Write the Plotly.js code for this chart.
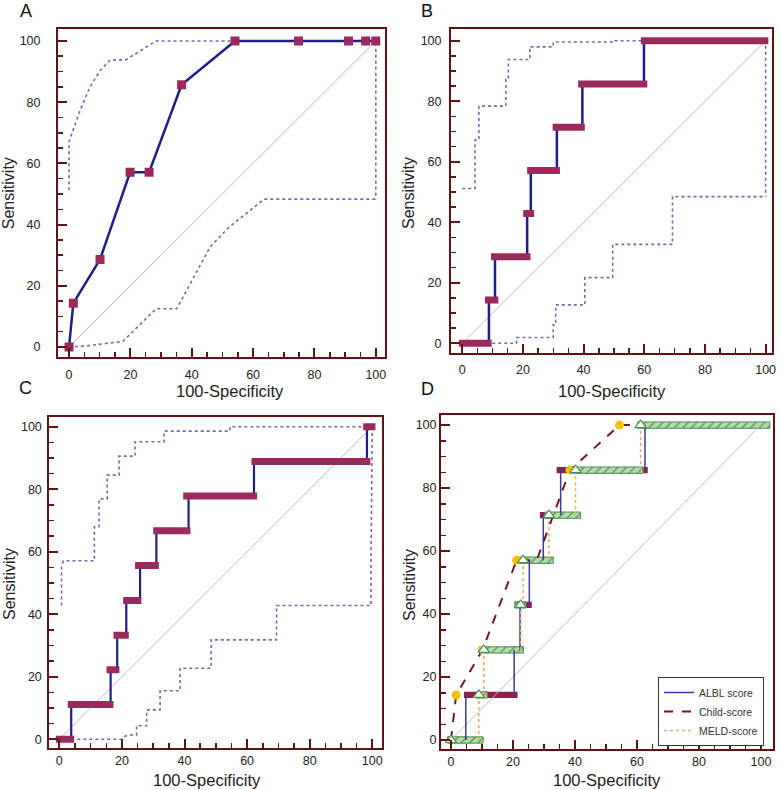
<!DOCTYPE html>
<html>
<head>
<meta charset="utf-8">
<script src="https://cdn.plot.ly/plotly-3.0.1.min.js"></script>
<style>html,body{margin:0;padding:0;background:#fff;}#chart{width:781px;height:790px;}</style>
</head>
<body>
<div id="chart"></div>
<script>
// ---------------- DATA ----------------
const sensLevels7 = [0, 14.3, 28.6, 42.9, 57.1, 71.4, 85.7, 100];
const sensLevels9 = [0, 11.1, 22.2, 33.3, 44.4, 55.6, 66.7, 77.8, 88.9, 100];
const diagX = [0, 100];
const diagY = [0, 100];

// Panel A
const aFpr  = [0, 1.4, 10.1, 19.9, 26.1, 36.7, 54.1, 74.8, 91.1, 96.7, 100];
const aSens = [0, 14.3, 28.6, 57.1, 57.1, 85.7, 100, 100, 100, 100, 100];
const aUpperX = [0, 0, 0.9, 3.6, 6.8, 10.1, 13.4, 18.5, 28.4, 100, 100];
const aUpperY = [51.2, 67, 69.7, 77.3, 84.9, 90.3, 93.8, 93.8, 100, 100, 48.3];
const aLowerX = [0, 5, 17.5, 28.4, 35.1, 46, 52, 63.6, 100];
const aLowerY = [0, 0.3, 1.8, 12.5, 12.5, 32.7, 39, 48.3, 48.3];

// Panel B
const bStepX    = [8.8, 10.8, 21.4, 22.6, 31.2, 39.6, 59.9];
const bBarStart = [-1.1, 7.5, 9.5, 20.1, 21.4, 29.8, 38.2, 58.9];
const bBarEnd   = [9.7, 11.9, 22.5, 23.7, 32.2, 40.4, 61.0, 100.9];
const bUpperX = [0, 4.2, 4.2, 5.5, 5.5, 14.4, 14.4, 15.2, 15.2, 22.3, 22.3, 30, 30, 49.8, 49.8, 100, 100];
const bUpperY = [51.2, 51.2, 67.2, 67.2, 78.4, 78.4, 87.3, 87.3, 93.8, 93.8, 98, 98, 99.6, 99.6, 100, 100, 48.5];
const bLowerX = [0, 17.9, 17.9, 30, 30, 30.8, 30.8, 40.4, 40.4, 49.6, 49.6, 69.3, 69.3, 100];
const bLowerY = [0, 0, 1.9, 1.9, 6.1, 6.1, 12.7, 12.7, 21.7, 21.7, 32.7, 32.7, 48.5, 48.5];

// Panel C
const cStepX    = [3.8, 16.4, 18.5, 21.4, 25.8, 31.0, 41.3, 62.2, 98.3];
const cBarStart = [-1.1, 2.7, 15.1, 17.3, 20.4, 24.2, 30.0, 39.6, 61.4, 97.1];
const cBarEnd   = [4.7, 17.3, 19.2, 22.2, 26.2, 31.8, 41.9, 63.2, 99.4, 101];
const cUpperX = [0.7, 0.7, 1.3, 11.2, 11.2, 12.7, 12.7, 15.3, 15.3, 19.1, 19.1, 24.2, 24.2, 33.5, 33.5, 54.5, 54.5, 100];
const cUpperY = [42.8, 55, 57.1, 57.1, 68, 68, 76.9, 76.9, 84.5, 84.5, 90.6, 90.6, 95.2, 95.2, 98.6, 98.6, 100, 100];
const cLowerX = [0, 20, 21, 22.5, 24.7, 24.7, 27.9, 27.9, 32.2, 32.2, 38.6, 38.6, 48.5, 48.5, 69.4, 69.4, 99.6, 99.6, 100];
const cLowerY = [0, 0, 1, 1.4, 1.4, 4.3, 4.3, 9.4, 9.4, 15.5, 15.5, 22.7, 22.7, 31.8, 31.8, 42.8, 42.8, 57.9, 100];

// Panel D
const dAlblStepX    = [4.8, 20.4, 22.3, 25.3, 29.8, 35.4, 62.6];
const dAlblBarStart = [-1.1, 4.2, 19.3, 21.2, 24.2, 28.7, 34.1, 61.5];
const dAlblBarEnd   = [5.9, 21.5, 23.5, 26.1, 30.9, 36.5, 63.5, 101];
const dMeldStepX    = [9.0, 10.6, 22.5, 23.3, 31.6, 40.2, 61.2];
const dMeldBarStart = [-1.1, 8.1, 9.1, 20.6, 22.0, 30.3, 38.9, 60.3];
const dMeldBarEnd   = [10.4, 11.7, 23.3, 24.2, 33.0, 41.8, 62.0, 102.9];
const dChildX = [0, 1.7, 10.2, 21.2, 27.7, 38.4, 54.4, 60.5];
const dChildY = [0, 14.3, 28.6, 57.1, 57.1, 85.7, 100, 100];
const dChildDotIdx = [1, 2, 3, 5, 6];

const panelLetters = ['A', 'B', 'C', 'D'];
const xTitle = '100-Specificity';
const yTitle = 'Sensitivity';
const legendNames = ['ALBL score', 'Child-score', 'MELD-score'];

// ---------------- HELPERS ----------------
const W = 781, H = 790;
const FONT = 'Liberation Sans, Arial, Helvetica, sans-serif';
const FRAME = '#5e1414';
const NAVY = '#1f1f85';
const MAROON = '#9b2a5c';
const CI = '#6c6cb2';

function verticals(stepX, levels) {
  const x = [], y = [];
  stepX.forEach((sx, i) => { x.push(sx, sx, null); y.push(levels[i], levels[i + 1], null); });
  return {x, y};
}
function hbars(start, end, levels) {
  const x = [], y = [];
  start.forEach((s, i) => { x.push(s, end[i], null); y.push(levels[i], levels[i], null); });
  return {x, y};
}
const px = v => v / W;
const py = v => 1 - v / H;

function axis(dom, range, anchor, standoff) {
  return {
    domain: dom, range: range, anchor: anchor,
    showgrid: false, zeroline: false, showline: true, mirror: true,
    linecolor: FRAME, linewidth: 2,
    ticks: 'inside', ticklen: 9, tickwidth: 2, tickcolor: FRAME,
    tick0: 0, dtick: 20,
    minor: {dtick: 5, tick0: 0, ticks: 'inside', ticklen: 5, tickwidth: 1.5, tickcolor: FRAME, showgrid: false},
    tickfont: {family: FONT, size: 12.5, color: '#222'},
    ticklabelstandoff: standoff,
    fixedrange: true
  };
}

const traces = [];
const ax = ['', '2', '3', '4'];
const diagColors = ['#d8a9a9', '#d3b0b0', '#bcbcbc', '#bdbdbd'];
ax.forEach((s, i) => traces.push({type: 'scatter', mode: 'lines', x: diagX, y: diagY, xaxis: 'x' + s, yaxis: 'y' + s,
  line: {color: diagColors[i], width: 1}, showlegend: false, hoverinfo: 'skip'}));

function ciTrace(x, y, s) {
  return {type: 'scatter', mode: 'lines', x: x, y: y, xaxis: 'x' + s, yaxis: 'y' + s,
    line: {color: CI, width: 1.6, dash: 'dot'}, showlegend: false, hoverinfo: 'skip'};
}
// Panel A
traces.push(ciTrace(aUpperX, aUpperY, ''), ciTrace(aLowerX, aLowerY, ''));
traces.push({type: 'scatter', mode: 'lines+markers', x: aFpr, y: aSens, xaxis: 'x', yaxis: 'y',
  line: {color: NAVY, width: 2.5}, marker: {symbol: 'square', size: 9, color: MAROON}, showlegend: false});

// Panel B & C
function stepPanel(s, upX, upY, loX, loY, stepX, bs, be, lv, vw) {
  traces.push(ciTrace(upX, upY, s), ciTrace(loX, loY, s));
  const v = verticals(stepX, lv);
  traces.push({type: 'scatter', mode: 'lines', x: v.x, y: v.y, xaxis: 'x' + s, yaxis: 'y' + s,
    line: {color: NAVY, width: vw}, showlegend: false, connectgaps: false});
  const b = hbars(bs, be, lv);
  traces.push({type: 'scatter', mode: 'lines', x: b.x, y: b.y, xaxis: 'x' + s, yaxis: 'y' + s,
    line: {color: MAROON, width: 7}, showlegend: false, connectgaps: false});
}
stepPanel('2', bUpperX, bUpperY, bLowerX, bLowerY, bStepX, bBarStart, bBarEnd, sensLevels7, 2.5);
stepPanel('3', cUpperX, cUpperY, cLowerX, cLowerY, cStepX, cBarStart, cBarEnd, sensLevels9, 2.2);

// Panel D
traces.push({type: 'bar', orientation: 'h', xaxis: 'x4', yaxis: 'y4', y: sensLevels7,
  x: dAlblBarEnd.map((e, i) => e - dAlblBarStart[i]), base: dAlblBarStart, width: 2.0,
  marker: {color: '#8e1f4c', line: {width: 0}}, showlegend: false, hoverinfo: 'skip'});
traces.push({type: 'bar', orientation: 'h', xaxis: 'x4', yaxis: 'y4', y: sensLevels7,
  x: dMeldBarEnd.map((e, i) => e - dMeldBarStart[i]), base: dMeldBarStart, width: 2.0,
  marker: {color: '#a6d3a0', line: {width: 1, color: '#4f8f4f'},
    pattern: {shape: '/', fgcolor: '#5f9f5f', bgcolor: '#b4dcae', size: 6, solidity: 0.25}},
  showlegend: false, hoverinfo: 'skip'});
const va = verticals(dAlblStepX, sensLevels7);
traces.push({type: 'scatter', mode: 'lines', x: va.x, y: va.y, xaxis: 'x4', yaxis: 'y4',
  line: {color: '#3a3a9c', width: 1.5}, name: legendNames[0], legendrank: 1});
const vm = verticals(dMeldStepX, sensLevels7);
traces.push({type: 'scatter', mode: 'lines', x: vm.x, y: vm.y, xaxis: 'x4', yaxis: 'y4',
  line: {color: '#f0a468', width: 1.5, dash: 'dot'}, name: legendNames[2], legendrank: 3});
traces.push({type: 'scatter', mode: 'lines', x: dChildX, y: dChildY, xaxis: 'x4', yaxis: 'y4',
  line: {color: '#6e1a22', width: 2, dash: 'dash'}, name: legendNames[1], legendrank: 2});
traces.push({type: 'scatter', mode: 'markers', x: dChildDotIdx.map(i => dChildX[i]), y: dChildDotIdx.map(i => dChildY[i]),
  xaxis: 'x4', yaxis: 'y4', marker: {color: '#f4c20d', size: 9}, showlegend: false});
traces.push({type: 'scatter', mode: 'markers', x: [0].concat(dMeldStepX), y: sensLevels7, xaxis: 'x4', yaxis: 'y4',
  marker: {symbol: 'triangle-up', size: 10, color: '#ffffff', line: {color: '#4f8f4f', width: 1.2}}, showlegend: false});

// ---------------- LAYOUT ----------------
const layout = {
  width: W, height: H,
  margin: {l: 0, r: 0, t: 0, b: 0, pad: 0},
  paper_bgcolor: '#ffffff', plot_bgcolor: '#ffffff',
  font: {family: FONT, color: '#222'},
  barmode: 'overlay',
  xaxis:  axis([px(58), px(385)],    [-3.6, 103.0], 'y',  5),
  yaxis:  axis([py(357.3), py(29.3)], [-3.37, 103.8], 'x', 13),
  xaxis2: axis([px(451), px(771.7)], [-3.7, 102.0], 'y2', 4),
  yaxis2: axis([py(353.3), py(29.3)], [-3.3, 103.8], 'x2', 5),
  xaxis3: axis([px(49.3), px(382.3)], [-3.2, 103.2], 'y3', 0),
  yaxis3: axis([py(748.3), py(416.7)], [-2.9, 103.2], 'x3', 3),
  xaxis4: axis([px(441), px(773.3)], [-3.2, 104.0], 'y4', 0),
  yaxis4: axis([py(749.3), py(415)], [-2.95, 103.2], 'x4', 0),
  showlegend: true,
  legend: {x: px(764), xanchor: 'right', y: py(677), yanchor: 'top',
    bgcolor: '#ffffff', bordercolor: '#333', borderwidth: 1,
    font: {family: FONT, size: 10.5, color: '#333'}, tracegroupgap: 0, itemwidth: 30},
  annotations: []
};
const letterPos = [[26, 11], [426.5, 11], [25.5, 388], [427.5, 389]];
panelLetters.forEach((t, i) => layout.annotations.push({text: t, xref: 'paper', yref: 'paper',
  x: px(letterPos[i][0]), y: py(letterPos[i][1]), xanchor: 'center', yanchor: 'middle', showarrow: false,
  font: {family: FONT, size: 18, color: '#111'}}));
const xtPos = [[230, 390.5], [612, 390.5], [207, 779.5], [607, 779.5]];
xtPos.forEach(p => layout.annotations.push({text: xTitle, xref: 'paper', yref: 'paper',
  x: px(p[0]), y: py(p[1]), xanchor: 'center', yanchor: 'middle', showarrow: false,
  font: {family: FONT, size: 16.5, color: '#222'}}));
const ytPos = [[9.2, 193], [409, 193], [9, 584], [409, 585]];
ytPos.forEach(p => layout.annotations.push({text: yTitle, xref: 'paper', yref: 'paper', textangle: -90,
  x: px(p[0]), y: py(p[1]), xanchor: 'center', yanchor: 'middle', showarrow: false,
  font: {family: FONT, size: 16, color: '#222'}}));

Plotly.newPlot('chart', traces, layout, {staticPlot: true, displayModeBar: false});
</script>
</body>
</html>
